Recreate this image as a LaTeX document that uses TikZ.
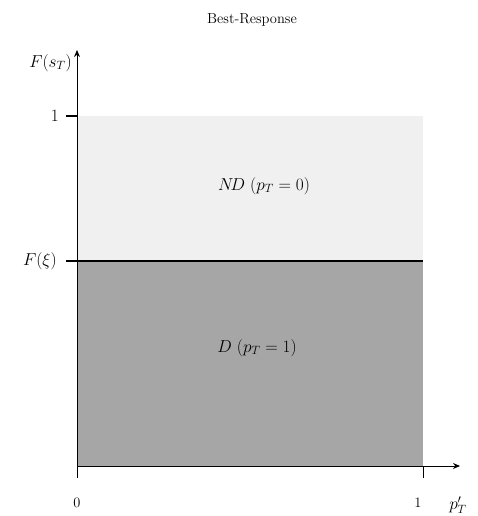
\documentclass[tikz,border=0pt]{standalone}
\usetikzlibrary{arrows.meta}
\begin{document}
\begin{tikzpicture}[x=1pt,y=-1pt,
  axis/.style={line width=1pt,-{Stealth[length=7pt,width=6pt]}},
  tick/.style={line width=1pt},
  lbl/.style={font=\fontsize{17}{20}\selectfont, inner sep=0pt},
  ttl/.style={font=\fontsize{14.5}{17}\selectfont, inner sep=0pt}]
\useasboundingbox (0,0) rectangle (478,516);
\fill[fill={rgb,255:red,240;green,240;blue,240}] (77,116) rectangle (423,261);
\fill[fill={rgb,255:red,166;green,166;blue,166}] (77,261) rectangle (423,466);
\coordinate (o) at (77,466);
\coordinate (ytop) at (77,50);
\coordinate (xend) at (460,466);
\draw[axis] (o) -- (ytop);
\draw[axis] (o) -- (xend);
\coordinate (t1a) at (66,116); \coordinate (t1b) at (77,116);
\draw[tick] (t1a) -- (t1b);
\coordinate (fa) at (66,261); \coordinate (fb) at (423,261);
\draw[line width=1.5pt] (fa) -- (fb);
\coordinate (x0a) at (77,466); \coordinate (x0b) at (77,478);
\draw[tick] (x0a) -- (x0b);
\coordinate (x1a) at (423,466); \coordinate (x1b) at (423,478);
\draw[tick] (x1a) -- (x1b);
\node[ttl] (title) at (252,20) {Best-Response};
\node[lbl, anchor=east] (fs) at (72,63) {$F(s_T)$};
\node[lbl, anchor=east] (one) at (59,116) {$1$};
\node[lbl, anchor=east] (fxi) at (57,261) {$F(\xi)$};
\node[ttl] (zero) at (77,503) {$0$};
\node[ttl] (onex) at (418,503) {$1$};
\node[lbl] (px) at (458,505) {$p'_T$};
\node[lbl] (nd) at (264,186) {$N\!D~(p_T=0)$};
\node[lbl] (d) at (257,348) {$D~(p_T=1)$};
\end{tikzpicture}
\end{document}
